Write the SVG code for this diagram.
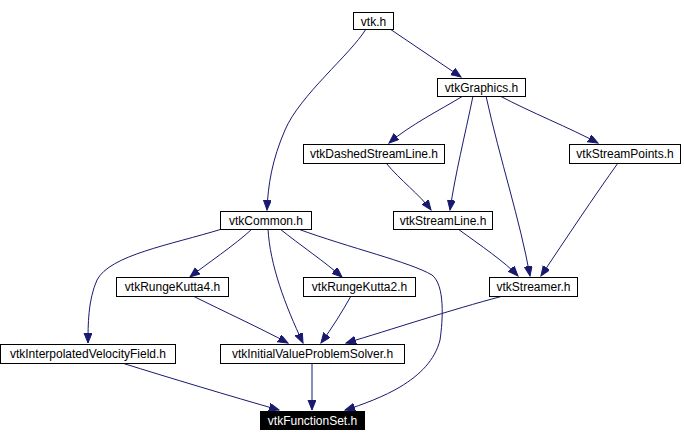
<svg xmlns="http://www.w3.org/2000/svg" width="684" height="442" viewBox="0 0 684 442">
<style>
.n rect{fill:#fff;stroke:#000;stroke-width:1}
.n text{font-family:"Liberation Sans",Arial,sans-serif;font-size:12px;fill:#000;text-anchor:middle}
#fs rect{fill:#000}
#fs text{fill:#fff}
#edges path{fill:none;stroke:#191970;stroke-width:1;marker-end:url(#ah)}
</style>
<defs>
<marker id="ah" markerUnits="userSpaceOnUse" markerWidth="11" markerHeight="9" refX="10" refY="4" orient="auto">
<path d="M0,0 L10,4 L0,8 z" fill="#191970" stroke="#191970" stroke-width="1"/>
</marker>
</defs>
<rect width="684" height="442" fill="#fff"/>
<g id="edges">
<path d="M366,29 C350,55 300,95 285,130 C272,160 268,185 267,210"/>
<path d="M390,29 L461,77"/>
<path d="M463,96 C440,110 410,125 389,143"/>
<path d="M473,96 C465,135 455,175 450,210"/>
<path d="M486,96 C500,160 520,220 530,276"/>
<path d="M500,96 C530,112 570,128 598,143"/>
<path d="M386,163 C400,180 420,195 431,210"/>
<path d="M618,163 C595,195 565,240 541,276"/>
<path d="M458,229 C480,245 505,262 518,276"/>
<path d="M222,229 C170,245 110,255 97,280 C88,300 88,325 88,343"/>
<path d="M252,229 C235,245 205,265 190,277"/>
<path d="M280,229 C300,245 325,262 342,277"/>
<path d="M268,229 C270,265 285,305 303,343"/>
<path d="M298,229 C350,248 410,262 432,275 C445,285 443,320 440,340 C435,360 420,375 400,387 C385,396 362,405 345,410"/>
<path d="M193,296 C225,312 260,328 288,343"/>
<path d="M351,296 C342,312 332,328 321,343"/>
<path d="M503,296 C450,310 390,330 346,343"/>
<path d="M312,363 L312,410"/>
<path d="M122,363 C170,378 230,396 279,410"/>
</g>
<g id="vtk" class="n"><rect x="353.5" y="12.5" width="40" height="17"/><text x="373.5" y="25.5">vtk.h</text></g>
<g id="graphics" class="n"><rect x="437.5" y="78.5" width="88" height="18"/><text x="481.5" y="91.5">vtkGraphics.h</text></g>
<g id="dashed" class="n"><rect x="303.5" y="144.5" width="141" height="19"/><text x="374" y="158">vtkDashedStreamLine.h</text></g>
<g id="points" class="n"><rect x="569.5" y="144.5" width="111" height="19"/><text x="625" y="158">vtkStreamPoints.h</text></g>
<g id="line" class="n"><rect x="393.5" y="211.5" width="99" height="18"/><text x="443" y="224.5">vtkStreamLine.h</text></g>
<g id="common" class="n"><rect x="220.5" y="211.5" width="91" height="18"/><text x="266" y="224.5">vtkCommon.h</text></g>
<g id="streamer" class="n"><rect x="489.5" y="277.5" width="88" height="19"/><text x="533.5" y="291">vtkStreamer.h</text></g>
<g id="rk4" class="n"><rect x="116.5" y="277.5" width="112" height="19"/><text x="172.5" y="291">vtkRungeKutta4.h</text></g>
<g id="rk2" class="n"><rect x="303.5" y="277.5" width="112" height="19"/><text x="359.5" y="291">vtkRungeKutta2.h</text></g>
<g id="ivf" class="n"><rect x="0.5" y="344.5" width="175" height="19"/><text x="88" y="358">vtkInterpolatedVelocityField.h</text></g>
<g id="ivps" class="n"><rect x="220.5" y="344.5" width="184" height="19"/><text x="312.5" y="358">vtkInitialValueProblemSolver.h</text></g>
<g id="fs" class="n"><rect x="260.5" y="411.5" width="104" height="18"/><text x="312.5" y="424.5">vtkFunctionSet.h</text></g>
</svg>
